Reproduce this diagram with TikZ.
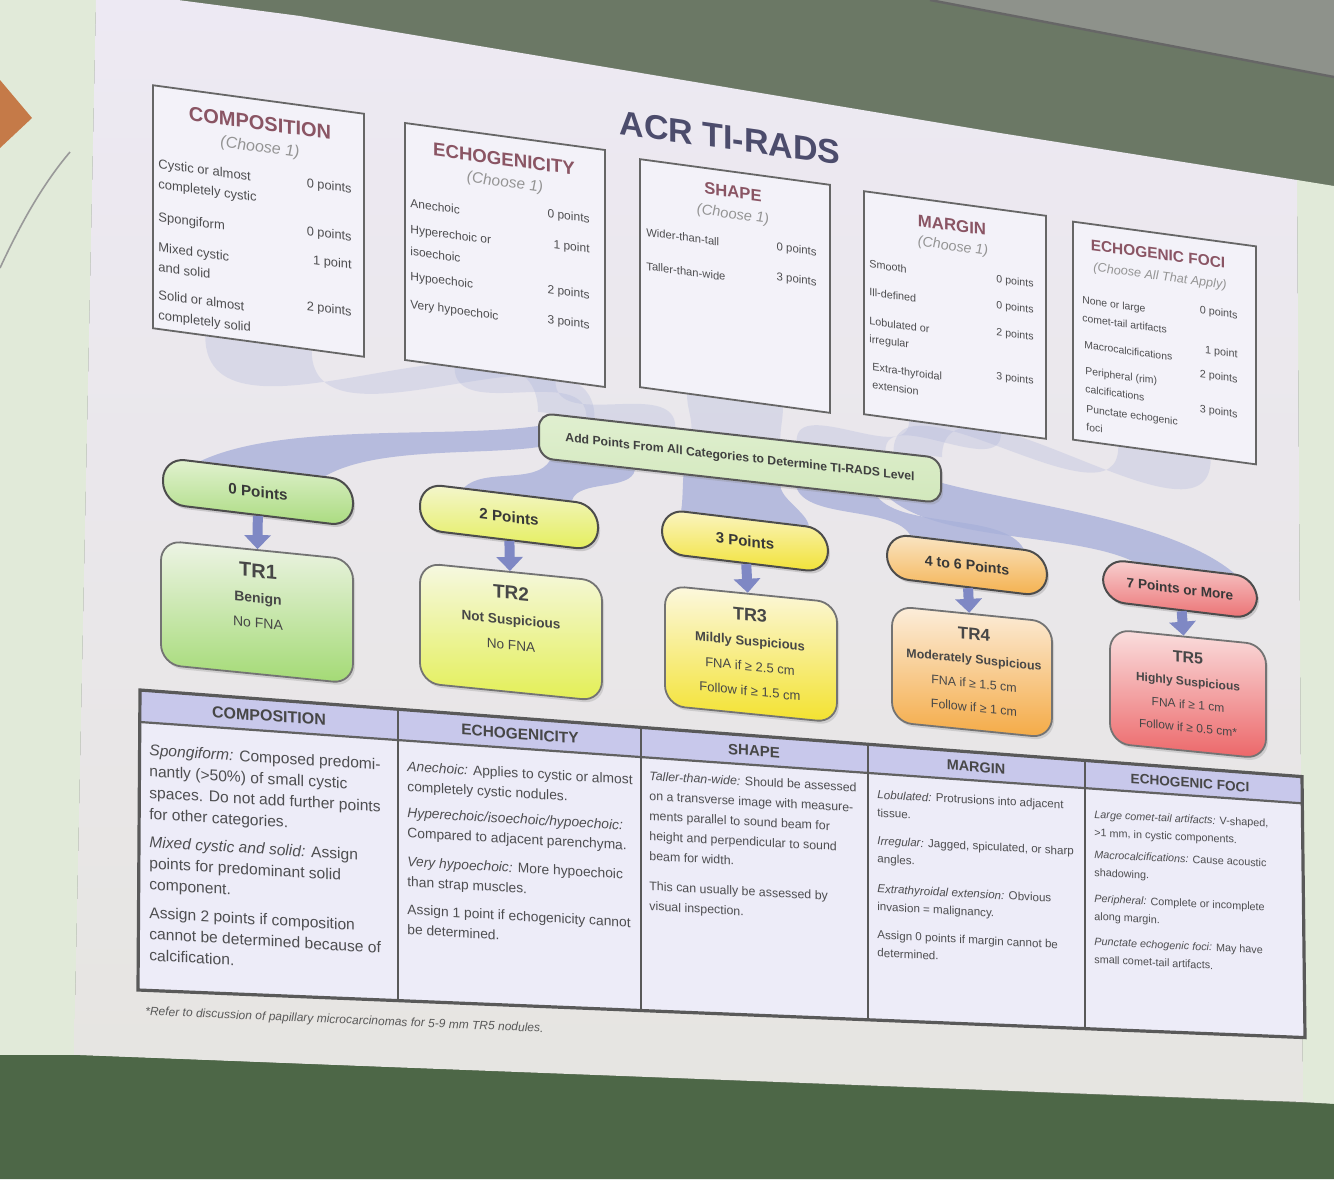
\documentclass[tikz,border=0pt]{standalone}
\usepackage{fontspec}
\setmainfont{Liberation Sans}
\usetikzlibrary{arrows.meta,calc,shadows}

\definecolor{wallc}{HTML}{6B7865}
\definecolor{ceilc}{HTML}{8E928B}
\definecolor{floorc}{HTML}{4D6747}
\definecolor{paleg}{HTML}{E1EAD9}
\definecolor{slidet}{HTML}{EDE9F3}
\definecolor{slideb}{HTML}{E6E5E1}
\definecolor{orng}{HTML}{C57A48}
\definecolor{ttlc}{HTML}{4C4C6C}
\definecolor{redc}{HTML}{8A5564}
\definecolor{txtc}{HTML}{4E4E50}
\definecolor{boxw}{HTML}{F3F2F9}
\definecolor{fanc}{HTML}{A9B1DA}
\definecolor{arrc}{HTML}{7F88C4}
\definecolor{hdrc}{HTML}{C8C8EB}
\definecolor{cellc}{HTML}{EDECF8}
\definecolor{addt}{HTML}{E0EFD0}
\definecolor{addb}{HTML}{D2E8BC}
\definecolor{p1t}{HTML}{E3F2D2}\definecolor{p1b}{HTML}{A9DB7E}
\definecolor{p2t}{HTML}{F4F6CF}\definecolor{p2b}{HTML}{E4EE5A}
\definecolor{p3t}{HTML}{FBF5C5}\definecolor{p3b}{HTML}{F1E234}
\definecolor{p4t}{HTML}{FAE6C6}\definecolor{p4b}{HTML}{F4B04C}
\definecolor{p5t}{HTML}{F8D2D2}\definecolor{p5b}{HTML}{EB7072}
\definecolor{t1t}{HTML}{EEF4E6}\definecolor{t1b}{HTML}{A3DA74}
\definecolor{t2t}{HTML}{F6F8E2}\definecolor{t2b}{HTML}{E3EF55}
\definecolor{t3t}{HTML}{FCF8E0}\definecolor{t3b}{HTML}{F3E22E}
\definecolor{t4t}{HTML}{FCEEDC}\definecolor{t4b}{HTML}{F4AA45}
\definecolor{t5t}{HTML}{FADFDF}\definecolor{t5b}{HTML}{EC6668}

\pgfdeclarelayer{back}
\pgfdeclarelayer{fans}
\pgfsetlayers{back,fans,main}

\tikzset{
  topbox/.style={draw=black!60, line width=0.9pt, fill=boxw, inner sep=0pt},
  ttl/.style={font=\bfseries\fontsize{#1}{#1}\selectfont, text=redc, inner sep=0pt},
  chs/.style={font=\itshape\fontsize{#1}{#1}\selectfont, text=black!42, inner sep=0pt},
  itm/.style 2 args={font=\fontsize{#1}{#2}\selectfont, text=txtc, align=left, anchor=west, inner sep=0pt},
  pts/.style={font=\fontsize{#1}{10}\selectfont, text=txtc, anchor=east, inner sep=0pt},
  pill/.style={draw=black!70, line width=1pt, rounded corners=11pt, inner sep=0pt, text=black!78,
    drop shadow={opacity=0.3, shadow xshift=1pt, shadow yshift=-1.5pt}},
  trbox/.style={draw=black!55, line width=0.9pt, rounded corners=10pt,
    drop shadow={opacity=0.25, shadow xshift=1pt, shadow yshift=-1.5pt}},
  trtxt/.style={align=center, inner sep=0pt, text=black!72},
  blk/.style={draw=arrc, line width=5pt, -{Triangle[width=13pt,length=7pt]}},
  band/.style={fill=fanc, fill opacity=0.8},
  bandlt/.style={fill=fanc, fill opacity=0.28},
  hd/.style={font=\bfseries\fontsize{#1}{#1}\selectfont, text=black!72, inner sep=0pt},
  cel/.style 2 args={font=\fontsize{#1}{#2}\selectfont, text=txtc, align=left, anchor=north west, inner sep=0pt}
}

\begin{document}
\begin{tikzpicture}[x=0.5pt,y=-0.5pt]
\useasboundingbox (0,0) rectangle (1334,1179);

% room and screen
\begin{pgfonlayer}{back}
\fill[wallc] (0,0) rectangle (1334,1179);
\fill[ceilc] (930,0) -- (1334,0) -- (1334,77) -- cycle;
\draw[black!60, line width=1.2pt] (930,0) -- (1334,77);
\fill[paleg] (0,0) -- (96,0) -- (74,1055) -- (0,1055) -- cycle;
\fill[paleg] (1297,180) -- (1334,186) -- (1334,1104) -- (1303,1102) -- cycle;
\shade[top color=slidet, bottom color=slideb] (96,0) -- (178,0) -- (300,16) -- (1000,133) -- (1297,180)
  -- (1303,1102) -- (74,1055) -- cycle;
\fill[floorc] (0,1055) -- (74,1055) -- (1334,1104) -- (1334,1179) -- (0,1179) -- cycle;
\fill[orng] (0,80) -- (32,118) -- (0,148) -- cycle;
\draw[black!40, line width=0.8pt] (0,268) .. controls (20,225) and (42,185) .. (70,152);
\end{pgfonlayer}

\node[font=\bfseries\fontsize{17}{17}\selectfont, text=ttlc, yslant=-0.14] (head) at (730,138) {ACR TI-RADS};

% scoring boxes
\begin{scope}[every node/.append style={yslant=-0.135}]
\node[topbox, minimum width=105.5pt, minimum height=121.5pt] (c1) at (258.5,221) {};
\node[ttl=10] (c1t) at (260,123) {COMPOSITION};
\node[chs=8] (c1c) at (260,148) {(Choose 1)};
\node[itm={6.5}{10}] (c1a) at (158,175) {Cystic or almost\\completely cystic};
\node[itm={6.5}{10}] (c1b) at (158,218) {Spongiform};
\node[itm={6.5}{10}] (c1d) at (158,257) {Mixed cystic\\and solid};
\node[itm={6.5}{10}] (c1e) at (158,306) {Solid or almost\\completely solid};
\node[pts=6.4] at (352,190) {0 points};
\node[pts=6.4] at (352,238) {0 points};
\node[pts=6.4] at (352,266) {1 point};
\node[pts=6.4] at (352,313) {2 points};

\node[topbox, minimum width=100pt, minimum height=118.5pt] (c2) at (505,255) {};
\node[ttl=9.3] (c2t) at (504,159) {ECHOGENICITY};
\node[chs=7.7] (c2c) at (505,183) {(Choose 1)};
\node[itm={6}{11}] (c2a) at (410,203) {Anechoic};
\node[itm={6}{11}] (c2b) at (410,240) {Hyperechoic or\\isoechoic};
\node[itm={6}{11}] (c2d) at (410,277) {Hypoechoic};
\node[itm={6}{11}] (c2e) at (410,305) {Very hypoechoic};
\node[pts=6] at (590,220) {0 points};
\node[pts=6] at (590,250) {1 point};
\node[pts=6] at (590,296) {2 points};
\node[pts=6] at (590,326) {3 points};

\node[topbox, minimum width=95pt, minimum height=114pt] (c3) at (735,286) {};
\node[ttl=8.3] (c3t) at (733,192) {SHAPE};
\node[chs=7.3] (c3c) at (733,215) {(Choose 1)};
\node[itm={5.6}{9}] (c3a) at (646,232) {Wider-than-tall};
\node[itm={5.6}{9}] (c3b) at (646,266) {Taller-than-wide};
\node[pts=5.7] at (817,253) {0 points};
\node[pts=5.7] at (817,283) {3 points};

\node[topbox, minimum width=91pt, minimum height=111.5pt] (c4) at (955,315) {};
\node[ttl=8.4] (c4t) at (952,225) {MARGIN};
\node[chs=7.1] (c4c) at (953,247) {(Choose 1)};
\node[itm={5.4}{9}] (c4a) at (869,264) {Smooth};
\node[itm={5.4}{9}] (c4b) at (869,292) {Ill-defined};
\node[itm={5.4}{9}] (c4d) at (869,331) {Lobulated or\\irregular};
\node[itm={5.4}{9}] (c4e) at (872,376) {Extra-thyroidal\\extension};
\node[pts=5.3] at (1034,285) {0 points};
\node[pts=5.3] at (1034,311) {0 points};
\node[pts=5.3] at (1034,338) {2 points};
\node[pts=5.3] at (1034,382) {3 points};

\node[topbox, minimum width=91.5pt, minimum height=109pt] (c5) at (1164.5,343) {};
\node[ttl=7.7] (c5t) at (1158,254) {ECHOGENIC FOCI};
\node[chs=6.3] (c5c) at (1160,277) {(Choose All That Apply)};
\node[itm={5.2}{9}] (c5a) at (1082,309) {None or large\\comet-tail artifacts};
\node[itm={5.2}{9}] (c5b) at (1084,345) {Macrocalcifications};
\node[itm={5.2}{9}] (c5d) at (1085,380) {Peripheral (rim)\\calcifications};
\node[itm={5.2}{9}] (c5e) at (1086,418) {Punctate echogenic\\foci};
\node[pts=5.4] at (1238,316) {0 points};
\node[pts=5.4] at (1238,355) {1 point};
\node[pts=5.4] at (1238,380) {2 points};
\node[pts=5.4] at (1238,415) {3 points};
\end{scope}

\node[draw=black!65, line width=1pt, rounded corners=7pt, top color=addt, bottom color=addb,
  minimum width=201pt, minimum height=22.5pt, inner sep=0pt, yslant=-0.112,
  font=\bfseries\fontsize{6.1}{7}\selectfont, text=black!75,
  drop shadow={opacity=0.25, shadow xshift=1pt, shadow yshift=-1.5pt}] (add) at (740,458)
  {Add Points From All Categories to Determine TI-RADS Level};

% point ranges
\node[pill, top color=p1t, bottom color=p1b, minimum width=95pt, minimum height=23pt,
  yslant=-0.12, font=\bfseries\fontsize{7.6}{8}\selectfont] (p1) at (258,492) {0 Points};
\node[pill, top color=p2t, bottom color=p2b, minimum width=89pt, minimum height=23pt,
  yslant=-0.12, font=\bfseries\fontsize{7.6}{8}\selectfont] (p2) at (509,517) {2 Points};
\node[pill, top color=p3t, bottom color=p3b, minimum width=83pt, minimum height=22pt,
  yslant=-0.12, font=\bfseries\fontsize{7.5}{8}\selectfont] (p3) at (745,541) {3 Points};
\node[pill, top color=p4t, bottom color=p4b, minimum width=80pt, minimum height=22pt,
  yslant=-0.12, font=\bfseries\fontsize{7.1}{8}\selectfont] (p4) at (967,565) {4 to 6 Points};
\node[pill, top color=p5t, bottom color=p5b, minimum width=77pt, minimum height=21pt,
  yslant=-0.12, font=\bfseries\fontsize{6.8}{8}\selectfont] (p5) at (1180,589) {7 Points or More};

% levels
\node[trbox, top color=t1t, bottom color=t1b, minimum width=96pt, minimum height=62pt, yslant=-0.1] (t1) at (257,612) {};
\node[trtxt, yslant=-0.1, font=\fontsize{7}{12.5}\selectfont] (t1x) at (258,596)
  {{\fontsize{10}{12}\selectfont\bfseries TR1}\\\textbf{Benign}\\No FNA};
\node[trbox, top color=t2t, bottom color=t2b, minimum width=91pt, minimum height=60pt, yslant=-0.1] (t2) at (511,632) {};
\node[trtxt, yslant=-0.1, font=\fontsize{6.8}{12.5}\selectfont] (t2x) at (511,618)
  {{\fontsize{9.5}{12}\selectfont\bfseries TR2}\\\textbf{Not Suspicious}\\No FNA};
\node[trbox, top color=t3t, bottom color=t3b, minimum width=86pt, minimum height=60pt, yslant=-0.1] (t3) at (751,654) {};
\node[trtxt, yslant=-0.1, font=\fontsize{6.5}{12.5}\selectfont] (t3x) at (750,652)
  {{\fontsize{9}{12}\selectfont\bfseries TR3}\\\textbf{Mildly Suspicious}\\FNA if ≥ 2.5 cm\\Follow if ≥ 1.5 cm};
\node[trbox, top color=t4t, bottom color=t4b, minimum width=80pt, minimum height=58pt, yslant=-0.1] (t4) at (972,672) {};
\node[trtxt, yslant=-0.1, font=\fontsize{6.2}{12}\selectfont] (t4x) at (974,670)
  {{\fontsize{8.5}{12}\selectfont\bfseries TR4}\\\textbf{Moderately Suspicious}\\FNA if ≥ 1.5 cm\\Follow if ≥ 1 cm};
\node[trbox, top color=t5t, bottom color=t5b, minimum width=78pt, minimum height=57pt, yslant=-0.1] (t5) at (1188,694) {};
\node[trtxt, yslant=-0.1, font=\fontsize{6}{11.5}\selectfont] (t5x) at (1188,692)
  {{\fontsize{8}{11}\selectfont\bfseries TR5}\\\textbf{Highly Suspicious}\\FNA if ≥ 1 cm\\Follow if ≥ 0.5 cm*};

\foreach \i in {1,...,5}
  \draw[blk] (p\i) -- (t\i);

% funnels behind the boxes
\begin{pgfonlayer}{fans}
\foreach \bx/\u/\v in {c1/0.0/0.14, c2/0.12/0.34, c3/0.38/0.6, c4/0.64/0.86, c5/0.88/1.0}
  \fill[bandlt] ($(\bx.south west)!0.25!(\bx.south east)$) to[out=-90,in=90] ($(add.north west)!\u!(add.north east)$)
    -- ($(add.north west)!\v!(add.north east)$) to[out=90,in=-90] ($(\bx.south west)!0.75!(\bx.south east)$) -- cycle;
\fill[band] ($(add.north west)!0.3!(add.south west)$) to[out=188,in=25,looseness=0.7] ($(p1.north west)!0.2!(p1.north east)$)
  -- ($(p1.north west)!0.85!(p1.north east)$) to[out=30,in=188,looseness=0.7] ($(add.north west)!0.75!(add.south west)$) -- cycle;
\fill[band] ($(add.south west)!0.03!(add.south east)$) to[out=-120,in=45,looseness=0.8] ($(p2.north west)!0.25!(p2.north east)$)
  -- ($(p2.north west)!0.85!(p2.north east)$) to[out=75,in=-100,looseness=0.8] ($(add.south west)!0.24!(add.south east)$) -- cycle;
\fill[band] ($(add.south west)!0.36!(add.south east)$) to[out=-95,in=80,looseness=0.7] ($(p3.north west)!0.12!(p3.north east)$)
  -- ($(p3.north west)!0.88!(p3.north east)$) to[out=100,in=-85,looseness=0.7] ($(add.south west)!0.6!(add.south east)$) -- cycle;
\fill[band] ($(add.south west)!0.64!(add.south east)$) to[out=-70,in=120,looseness=0.7] ($(p4.north west)!0.15!(p4.north east)$)
  -- ($(p4.north west)!0.85!(p4.north east)$) to[out=120,in=-50,looseness=0.7] ($(add.south west)!0.84!(add.south east)$) -- cycle;
\fill[band] ($(add.south west)!0.87!(add.south east)$) to[out=-40,in=155,looseness=0.7] ($(p5.north west)!0.2!(p5.north east)$)
  -- ($(p5.north west)!0.85!(p5.north east)$) to[out=140,in=-15,looseness=0.7] ($(add.north east)!0.55!(add.south east)$) -- cycle;
\end{pgfonlayer}

% description table
\fill[hdrc] (140,690) -- (1302,776.6) -- (1302,803.3) -- (140,722) -- cycle;
\fill[cellc] (140,722) -- (1302,803.3) -- (1305,1037.6) -- (138,990) -- cycle;
\draw[black!62, line width=1.1pt] (140,722) -- (1302,803.3);
\foreach \x/\yt/\yb in {398/709.2/1000.6, 641/727.3/1010.5, 868/744.2/1019.8, 1085/760.4/1028.7}
  \draw[black!65, line width=1.3pt] (\x,\yt) -- (\x,\yb);
\draw[black!65, line width=1.6pt] (140,690) -- (1302,776.6) -- (1305,1037.6) -- (138,990) -- cycle;

\begin{scope}[every node/.append style={yslant=-0.075}]
\node[hd=8] (h1) at (269,716) {COMPOSITION};
\node[hd=7.7] (h2) at (520,734) {ECHOGENICITY};
\node[hd=7.5] (h3) at (754,751) {SHAPE};
\node[hd=7.2] (h4) at (976,767) {MARGIN};
\node[hd=6.8] (h5) at (1190,783) {ECHOGENIC FOCI};
\end{scope}

\node[cel={7.8}{10.6}, yslant=-0.06] (b1) at (149,744)
  {\textit{Spongiform:} Composed predomi-\\nantly (>50\%) of small cystic\\spaces. Do not add further points\\for other categories.\\[3.5pt]
   \textit{Mixed cystic and solid:} Assign\\points for predominant solid\\component.\\[3.5pt]
   Assign 2 points if composition\\cannot be determined because of\\calcification.};
\node[cel={6.9}{10}, yslant=-0.058] (b2) at (407,761)
  {\textit{Anechoic:} Applies to cystic or almost\\completely cystic nodules.\\[3pt]
   \textit{Hyperechoic/isoechoic/hypoechoic:}\\Compared to adjacent parenchyma.\\[4.5pt]
   \textit{Very hypoechoic:} More hypoechoic\\than strap muscles.\\[4pt]
   Assign 1 point if echogenicity cannot\\be determined.};
\node[cel={6.2}{10}, yslant=-0.055] (b3) at (649,771)
  {\textit{Taller-than-wide:} Should be assessed\\on a transverse image with measure-\\ments parallel to sound beam for\\height and perpendicular to sound\\beam for width.\\[5pt]
   This can usually be assessed by\\visual inspection.};
\node[cel={5.8}{9}, yslant=-0.053] (b4) at (877,790)
  {\textit{Lobulated:} Protrusions into adjacent\\tissue.\\[5pt]
   \textit{Irregular:} Jagged, spiculated, or sharp\\angles.\\[6pt]
   \textit{Extrathyroidal extension:} Obvious\\invasion = malignancy.\\[5pt]
   Assign 0 points if margin cannot be\\determined.};
\node[cel={5.4}{9}, yslant=-0.05] (b5) at (1094,810)
  {\textit{Large comet-tail artifacts:} V-shaped,\\>1 mm, in cystic components.\\[2pt]
   \textit{Macrocalcifications:} Cause acoustic\\shadowing.\\[4pt]
   \textit{Peripheral:} Complete or incomplete\\along margin.\\[3.5pt]
   \textit{Punctate echogenic foci:} May have\\small comet-tail artifacts.};

\node[font=\itshape\fontsize{6}{6}\selectfont, text=black!65, anchor=west, inner sep=0pt, yslant=-0.043] (fn) at (145,1012)
  {*Refer to discussion of papillary microcarcinomas for 5-9 mm TR5 nodules.};
\end{tikzpicture}
\end{document}
